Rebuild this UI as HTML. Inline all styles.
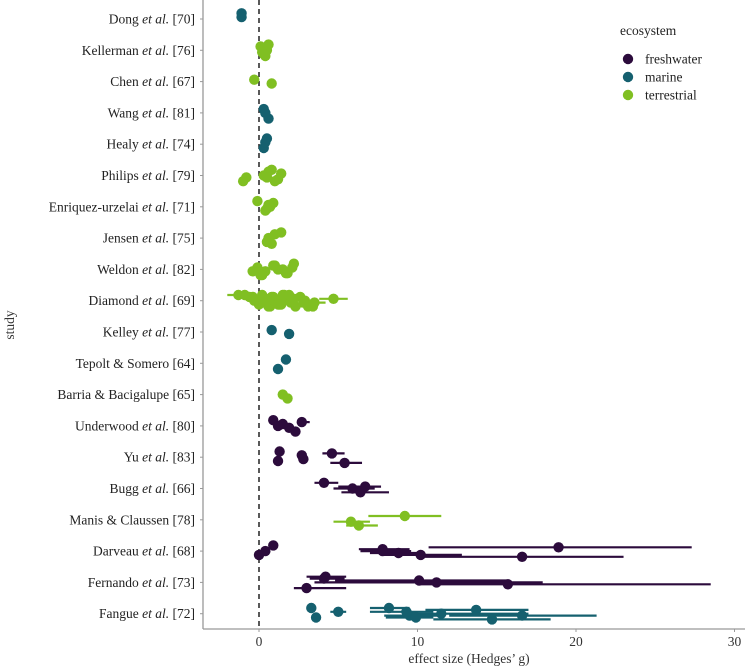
<!DOCTYPE html>
<html><head><meta charset="utf-8"><style>
body{margin:0;background:#fff}
svg{display:block;font-family:"Liberation Serif",serif}
</style></head><body>
<svg id="c" width="747" height="672"></svg>
<script>
const studies=["Dong <i>et al.</i> [70]","Kellerman <i>et al.</i> [76]","Chen <i>et al.</i> [67]","Wang <i>et al.</i> [81]","Healy <i>et al.</i> [74]","Philips <i>et al.</i> [79]","Enriquez-urzelai <i>et al.</i> [71]","Jensen <i>et al.</i> [75]","Weldon <i>et al.</i> [82]","Diamond <i>et al.</i> [69]","Kelley <i>et al.</i> [77]","Tepolt &amp; Somero [64]","Barria &amp; Bacigalupe [65]","Underwood <i>et al.</i> [80]","Yu <i>et al.</i> [83]","Bugg <i>et al.</i> [66]","Manis &amp; Claussen [78]","Darveau <i>et al.</i> [68]","Fernando <i>et al.</i> [73]","Fangue <i>et al.</i> [72]"];
const ecoNames=["freshwater","marine","terrestrial"];
const ecoColors=["#2c0b3c","#15606f","#80bf22"];
const xTicks=[0,10,20,30];
// point rows: [studyIndex, ecosystem, g, ciLow, ciHigh]
const points=[
[0,1,-1.1,-1.2,-1],[0,1,-1.1,-1.2,-1],
[1,2,0.2,0.1,0.3],[1,2,0.4,0.3,0.5],[1,2,0.1,0,0.2],[1,2,0.5,0.4,0.6],[1,2,0.3,0.2,0.4],[1,2,0.6,0.5,0.7],
[2,2,-0.3,-0.4,-0.2],[2,2,0.8,0.7,0.9],
[3,1,0.6,0.5,0.7],[3,1,0.3,0.2,0.4],[3,1,0.4,0.3,0.5],
[4,1,0.3,0.2,0.4],[4,1,0.5,0.4,0.6],[4,1,0.4,0.3,0.5],
[5,2,-0.8,-1.1,-0.5],[5,2,-1.0,-1.2,-0.8],[5,2,0.6,0.4,0.8],[5,2,0.3,0.1,0.5],[5,2,1.2,1,1.4],[5,2,0.8,0.6,1],[5,2,1.4,1.2,1.6],[5,2,0.5,0.3,0.7],[5,2,1.0,0.8,1.2],
[6,2,0.9,0.8,1],[6,2,0.7,0.6,0.8],[6,2,0.4,0.3,0.5],[6,2,-0.1,-0.2,0],[6,2,0.6,0.5,0.7],[6,2,0.5,0.4,0.6],
[7,2,0.8,0.7,0.9],[7,2,1.0,0.9,1.1],[7,2,0.6,0.5,0.7],[7,2,0.5,0.4,0.6],[7,2,1.4,1.3,1.5],
[8,2,-0.1,-0.2,0],[8,2,0.4,0.3,0.5],[8,2,0.2,0.1,0.3],[8,2,0.9,0.8,1],[8,2,1.2,1.1,1.3],[8,2,1.8,1.7,1.9],[8,2,2.2,2.1,2.3],[8,2,2.1,2,2.2],[8,2,-0.4,-0.5,-0.3],[8,2,0.1,0,0.2],[8,2,1.0,0.9,1.1],[8,2,1.5,1.4,1.6],[8,2,1.7,1.6,1.8],
[9,2,-1.3,-2.0,-0.6],[9,2,4.7,3.8,5.6],[9,2,3.5,3.0,4.2],[9,2,3.1,2.6,3.6],[9,2,-0.6,-0.8,-0.4],[9,2,-0.3,-0.5,-0.1],[9,2,0,-0.2,0.2],[9,2,0.2,0,0.4],[9,2,0.4,0.2,0.6],[9,2,0.5,0.3,0.7],[9,2,0.7,0.5,0.9],[9,2,0.9,0.7,1.1],[9,2,1.1,0.9,1.3],[9,2,1.3,1.1,1.5],[9,2,1.5,1.3,1.7],[9,2,1.8,1.6,2],[9,2,2.0,1.8,2.2],[9,2,2.3,2.1,2.5],[9,2,2.6,2.4,2.8],[9,2,2.9,2.7,3.1],[9,2,3.3,3.1,3.5],[9,2,-0.9,-1.1,-0.7],[9,2,0.1,-0.1,0.3],[9,2,0.3,0.1,0.5],[9,2,0.6,0.4,0.8],[9,2,0.8,0.6,1],[9,2,1.0,0.8,1.2],[9,2,1.2,1,1.4],[9,2,1.6,1.4,1.8],[9,2,2.2,2,2.4],[9,2,2.8,2.6,3],[9,2,3.4,3.2,3.6],[9,2,-0.4,-0.6,-0.2],[9,2,0.5,0.3,0.7],[9,2,1.4,1.2,1.6],[9,2,1.9,1.7,2.1],
[10,1,0.8,0.7,0.9],[10,1,1.9,1.8,2],
[11,1,1.2,1.1,1.3],[11,1,1.7,1.6,1.8],
[12,2,1.5,1.4,1.6],[12,2,1.8,1.7,1.9],
[13,0,0.9,0.8,1],[13,0,1.5,1.4,1.6],[13,0,1.9,1.8,2],[13,0,2.3,2.2,2.4],[13,0,2.7,2.4,3.2],[13,0,1.2,1.1,1.3],
[14,0,1.2,1.1,1.3],[14,0,1.3,1.2,1.4],[14,0,2.7,2.6,2.8],[14,0,2.8,2.7,2.9],[14,0,5.4,4.5,6.5],[14,0,4.6,4.0,5.4],
[15,0,5.9,4.7,7.3],[15,0,6.4,5.2,8.2],[15,0,4.1,3.5,5.0],[15,0,6.7,5.0,7.7],
[16,2,5.8,4.7,7.0],[16,2,6.3,5.5,7.5],[16,2,9.2,6.9,11.5],
[17,0,0.4,0.3,0.5],[17,0,0.0,-0.1,0.1],[17,0,0.9,0.8,1],[17,0,7.8,6.3,9.5],[17,0,8.8,7.0,10.3],[17,0,16.6,10.0,23.0],[17,0,18.9,10.7,27.3],[17,0,7.8,6.4,9.6],[17,0,10.2,7.8,12.8],
[18,0,4.2,3.0,5.5],[18,0,10.1,4.8,15.8],[18,0,15.7,10.0,28.5],[18,0,3.0,2.2,5.5],[18,0,4.1,3.2,5.4],[18,0,11.2,3.5,17.9],
[19,1,3.6,3.4,3.8],[19,1,3.3,3.1,3.5],[19,1,5.0,4.5,5.5],[19,1,9.5,7.9,11.5],[19,1,14.7,11.0,18.4],[19,1,13.7,10.5,17.0],[19,1,11.5,9.5,17.0],[19,1,9.9,8.0,11.0],[19,1,8.2,7.0,9.5],[19,1,9.3,7.0,11.0],[19,1,16.6,12.0,21.3]
];
const NS="http://www.w3.org/2000/svg",svg=document.getElementById('c');
const L=203,R=745,B=629,x0=259,pxU=15.85;
const x=v=>x0+v*pxU, y=i=>19+i*31.3;
function mk(t,a,p){const e=document.createElementNS(NS,t);for(const k in a)e.setAttribute(k,a[k]);(p||svg).appendChild(e);return e;}
const ax=mk('line',{x1:L,y1:0,x2:L,y2:B,stroke:'#999','stroke-width':1.3});

const bx=mk('line',{x1:L,y1:B,x2:R,y2:B,stroke:'#999','stroke-width':1.3});

studies.forEach((s,i)=>{
 mk('line',{x1:L-3,y1:y(i),x2:L,y2:y(i),stroke:'#999'});
 const t=mk('text',{x:L-8,y:y(i)+4.5,'text-anchor':'end','font-size':13.5,fill:'#222'});
 t.innerHTML=s.replace(/<i>/g,'<tspan font-style="italic">').replace(/<\/i>/g,'</tspan>');
 
 
});
xTicks.forEach(v=>{
 mk('line',{x1:x(v),y1:B,x2:x(v),y2:B+3,stroke:'#999'});
 const t=mk('text',{x:x(v),y:B+17,'text-anchor':'middle','font-size':13.5,fill:'#333'});t.textContent=v;
 
 
});
const zl=mk('line',{x1:x(0),y1:0,x2:x(0),y2:B,stroke:'#222','stroke-width':1.5,'stroke-dasharray':'5,4'});

const g=mk('g',{});
points.forEach((p,k)=>{
 const jy=y(p[0])+(((k*37)%7)-3)*1.9;
 const c=ecoColors[p[1]];
 if(p[4]-p[3]>0.25){const l=mk('line',{x1:x(p[3]),y1:jy,x2:x(p[4]),y2:jy,stroke:c,'stroke-width':2.2},g);
  }
 const d=mk('circle',{cx:x(p[2]),cy:jy,r:5.2,fill:c},g);
 
 
});
const at=mk('text',{x:469,y:663,'text-anchor':'middle','font-size':13.5,fill:'#333'});at.textContent="effect size (Hedges’ g)";

const yt=mk('text',{x:14,y:325,'text-anchor':'middle','font-size':13.5,fill:'#333',transform:'rotate(-90 14 325)'});yt.textContent="study";

const lt=mk('text',{x:620,y:35,'font-size':13.5,fill:'#222'});lt.textContent="ecosystem";

ecoNames.forEach((n,i)=>{
 const gg=mk('g',{});
 
 
 mk('circle',{cx:628,cy:59+i*18,r:5.2,fill:ecoColors[i]},gg);
 const t=mk('text',{x:645,y:63.5+i*18,'font-size':13.5,fill:'#222'},gg);t.textContent=n;
});
</script>
</body></html>
